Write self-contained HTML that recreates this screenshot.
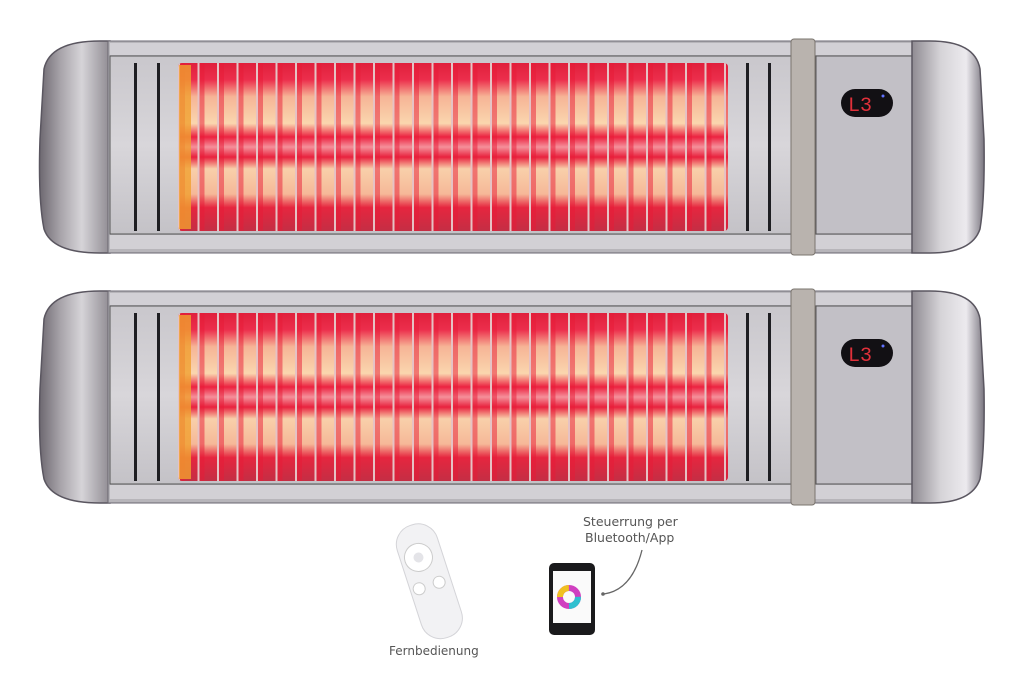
<!DOCTYPE html>
<html><head><meta charset="utf-8"><style>
body{margin:0;width:1024px;height:695px;background:#fff;overflow:hidden;font-family:"DejaVu Sans","Liberation Sans",sans-serif}
</style></head><body>
<svg width="1024" height="695" viewBox="0 0 1024 695" xmlns="http://www.w3.org/2000/svg">
<defs>
<linearGradient id="cap" x1="0" x2="1" y1="0" y2="0">
<stop offset="0" stop-color="#6d6870"/><stop offset="0.3" stop-color="#a8a4aa"/><stop offset="0.6" stop-color="#d6d4d8"/><stop offset="1" stop-color="#8f8b92"/></linearGradient>
<linearGradient id="capR" x1="0" x2="1" y1="0" y2="0">
<stop offset="0" stop-color="#8f8b92"/><stop offset="0.4" stop-color="#d6d4d8"/><stop offset="0.75" stop-color="#eceaee"/><stop offset="1" stop-color="#7a7680"/></linearGradient>
<linearGradient id="panel" x1="0" x2="0" y1="0" y2="1">
<stop offset="0" stop-color="#c9c7cc"/><stop offset="0.5" stop-color="#d8d6da"/><stop offset="1" stop-color="#c4c2c7"/></linearGradient>
<linearGradient id="elem" x1="0" x2="0" y1="0" y2="1">
<stop offset="0" stop-color="#e0203c"/><stop offset="0.1" stop-color="#ec2e4c"/>
<stop offset="0.2" stop-color="#f6b496"/><stop offset="0.36" stop-color="#fad6ae"/>
<stop offset="0.44" stop-color="#ec2240"/><stop offset="0.5" stop-color="#f5909a"/><stop offset="0.56" stop-color="#e8223e"/>
<stop offset="0.63" stop-color="#f8d0aa"/><stop offset="0.78" stop-color="#f6b898"/>
<stop offset="0.86" stop-color="#e6263f"/><stop offset="1" stop-color="#c42e44"/></linearGradient>
<pattern id="wires" x="178" y="0" width="19.5" height="10" patternUnits="userSpaceOnUse">
<rect x="0" y="0" width="2" height="10" fill="#e6c2c4"/><rect x="2" y="0" width="5" height="10" fill="#e81a36" opacity="0.5"/></pattern>
<g id="heater">
<path d="M110 2 H100 Q50 2 44 30 L40 100 Q38 160 44 190 Q52 214 100 214 H110 Z" fill="url(#cap)" stroke="#5a5660" stroke-width="1.5"/>
<rect x="108" y="2" width="806" height="212" fill="#b7b5ba" stroke="#6a6670"/>
<rect x="110" y="4" width="802" height="12" fill="#d2d0d5"/>
<rect x="110" y="196" width="802" height="14" fill="#d2d0d5"/>
<rect x="110" y="17" width="802" height="178" fill="url(#panel)" stroke="#555" stroke-width="1"/>
<rect x="134" y="24" width="3" height="168" fill="#1e1e22"/>
<rect x="157" y="24" width="3" height="168" fill="#1e1e22"/>
<rect x="746" y="24" width="3" height="168" fill="#1e1e22"/>
<rect x="768" y="24" width="3" height="168" fill="#1e1e22"/>
<rect x="178" y="24" width="550" height="168" rx="4" fill="url(#elem)"/>
<rect x="178" y="24" width="550" height="168" rx="4" fill="url(#wires)"/>
<rect x="179" y="26" width="12" height="164" fill="#f0a030" opacity="0.8"/>
<rect x="816" y="17" width="96" height="178" fill="#c2c0c6" stroke="#555"/>
<rect x="841" y="50" width="52" height="28" rx="14" fill="#121014"/>
<text x="848" y="72" font-family="Liberation Mono,monospace" font-size="20" fill="#e0303a">L3</text>
<circle cx="883" cy="57" r="1.5" fill="#6070ff"/>
<rect x="791" y="0" width="24" height="216" rx="3" fill="#b9b3ae" stroke="#7a746e"/>
<path d="M912 2 H930 Q975 2 980 30 L984 100 Q985 160 980 190 Q972 214 930 214 H912 Z" fill="url(#capR)" stroke="#5a5660" stroke-width="1.5"/>
</g>
</defs>
<use href="#heater" transform="translate(0,39)"/>
<use href="#heater" transform="translate(0,289)"/>
<g transform="rotate(-18 430 580)">
<rect x="408" y="522" width="42" height="118" rx="20" fill="#f2f2f4" stroke="#d4d4d8"/>
<circle cx="426" cy="555" r="14" fill="#fff" stroke="#ccc"/>
<circle cx="426" cy="555" r="5" fill="#e4e4e8"/>
<circle cx="417" cy="585" r="6" fill="#fff" stroke="#ccc"/>
<circle cx="438" cy="585" r="6" fill="#fff" stroke="#ccc"/>
</g>
<text x="389" y="655" font-size="12" fill="#555">Fernbedienung</text>
<rect x="549" y="563" width="46" height="72" rx="5" fill="#1a1a1c"/>
<rect x="553" y="571" width="38" height="52" fill="#fafafa"/>
<circle cx="569" cy="597" r="9" fill="none" stroke="#d040c0" stroke-width="6"/>
<circle cx="569" cy="597" r="9" fill="none" stroke="#30c0d0" stroke-width="6" stroke-dasharray="14 42"/>
<circle cx="569" cy="597" r="9" fill="none" stroke="#f0c020" stroke-width="6" stroke-dasharray="14 42" stroke-dashoffset="28"/>
<text x="583" y="526" font-size="12.5" fill="#555">Steuerrung per</text>
<text x="585" y="542" font-size="12.5" fill="#555">Bluetooth/App</text>
<path d="M642 550 Q632 590 604 594" fill="none" stroke="#666" stroke-width="1.3"/>
<circle cx="603" cy="594" r="1.8" fill="#666"/>
</svg>
</body></html>
